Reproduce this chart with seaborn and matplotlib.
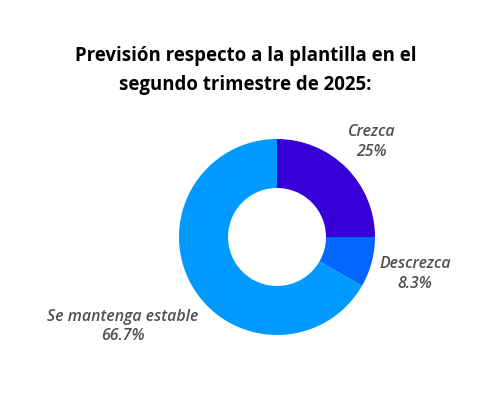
import numpy as np
import seaborn as sns
import matplotlib
matplotlib.use('Agg')
import matplotlib.pyplot as plt

sns.set_theme(style="white")
plt.rcParams['font.family'] = ['Open Sans', 'DejaVu Sans']

categorias = ["Crezca", "Descrezca", "Se mantenga estable"]
valores = [25.0, 8.3, 66.7]
etiquetas = ["25%", "8.3%", "66.7%"]
colores = ["#3700d9", "#0066ff", "#0099ff"]
dist_etiqueta = [1.37, 1.46, 1.82]

fig = plt.figure(figsize=(5.01, 4.12), dpi=100)
ax = fig.add_axes([0, 0, 1, 1])

cx, cy, r = 277, 175, 98
wedges, _ = ax.pie(valores, colors=colores, startangle=90, counterclock=False,
                   center=(cx, cy), radius=r, frame=True,
                   wedgeprops=dict(width=r * 0.5, edgecolor='none'))
ax.set_xlim(0, 501)
ax.set_ylim(0, 412)
ax.set_aspect('equal')
ax.axis('off')

for w, cat, et, d in zip(wedges, categorias, etiquetas, dist_etiqueta):
    ang = np.deg2rad((w.theta1 + w.theta2) / 2)
    x = cx + np.cos(ang) * r * d
    y = cy + np.sin(ang) * r * d
    ax.text(x, y, cat + "\n" + et, ha='center', va='center', fontsize=11.4,
            style='italic', fontweight='semibold', color='#505050', linespacing=1.3)

fig.text(0.49, 0.828, "Previsión respecto a la plantilla en el\nsegundo trimestre de 2025:",
         ha='center', va='center', fontsize=13.4, fontweight='bold', color='black',
         linespacing=1.6)

plt.savefig("out.png", dpi=100)
plt.close()
